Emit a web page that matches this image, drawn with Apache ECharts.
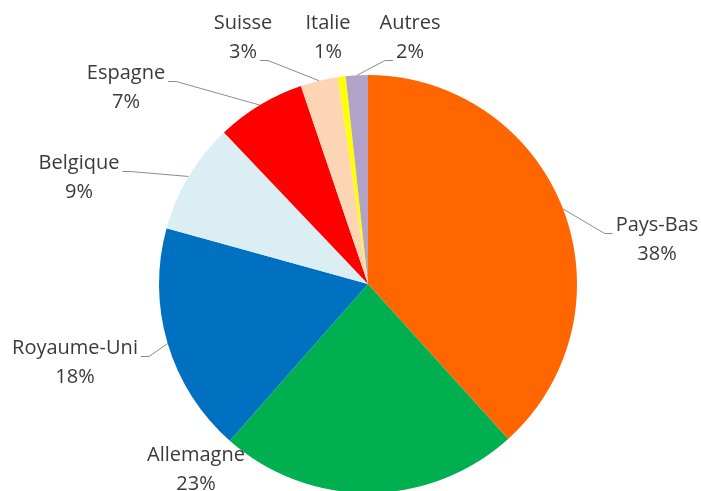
<!DOCTYPE html>
<html>
<head>
<meta charset="utf-8">
<script src="https://cdn.jsdelivr.net/npm/echarts@6/dist/echarts.min.js"></script>
<style>
  html, body { margin: 0; padding: 0; background: #fff; }
  #chart { width: 701px; height: 491px; }
</style>
</head>
<body>
<div id="chart"></div>
<script>
// données (parts en %)
var categories = ['Pays-Bas', 'Allemagne', 'Royaume-Uni', 'Belgique', 'Espagne', 'Suisse', 'Italie', 'Autres'];
var values = [38.3, 23.2, 17.8, 8.6, 6.9, 2.9, 0.6, 1.7];
var colors = ['#FF6600', '#00B050', '#0070C0', '#DAEEF3', '#FF0000', '#FCD5B5', '#FFFF00', '#B3A2C7'];

// position des étiquettes (centre du bloc de texte) et point d'attache du trait
var labelPos = [
    [657, 240], [196, 470], [75, 363], [79, 178],
    [126, 88], [243, 38], [328, 38], [410, 38]
];
// l/r = côté gauche/droit, 1/2 = ligne de texte ; null = pas de trait
var labelAttach = ['l1', null, 'r1', 'r1', 'r1', 'r2', null, 'l2'];

var FONT_SIZE = 20, LINE_H = 29;
var ctx = document.createElement('canvas').getContext('2d');
ctx.font = FONT_SIZE + 'px "Open Sans"';

function pctText(p) { return Math.round(p) + '%'; }

var myChart = echarts.init(document.getElementById('chart'));

var option = {
    animation: false,
    series: [{
        type: 'pie',
        center: [368, 284],
        radius: 209,
        startAngle: 90,
        clockwise: true,
        avoidLabelOverlap: false,
        data: categories.map(function (name, i) {
            return { name: name, value: values[i], itemStyle: { color: colors[i] } };
        }),
        label: {
            show: true,
            position: 'outside',
            fontFamily: 'Open Sans',
            fontSize: FONT_SIZE,
            lineHeight: LINE_H,
            color: '#3a3a3a',
            align: 'center',
            formatter: function (p) {
                return p.name + '\n' + pctText(p.percent);
            }
        },
        labelLine: {
            show: true,
            lineStyle: { color: '#8c8c8c', width: 1 }
        },
        labelLayout: function (params) {
            var i = params.dataIndex;
            var pos = labelPos[i];
            var res = { x: pos[0], y: pos[1], align: 'center', verticalAlign: 'middle' };
            var at = labelAttach[i];
            var start = params.labelLinePoints && params.labelLinePoints[0];
            if (!at || !start) {
                res.labelLinePoints = [[-100, -100], [-100, -100], [-100, -100]];
                return res;
            }
            var lineIdx = at.charAt(1) === '1' ? 0 : 1;
            var txt = lineIdx === 0 ? categories[i] : pctText(values[i]);
            var w = ctx.measureText(txt).width;
            var lineCy = pos[1] + (lineIdx === 0 ? -LINE_H / 2 : LINE_H / 2);
            var ay = lineCy + 8;
            var end, elbow;
            if (at.charAt(0) === 'l') {
                end = [pos[0] - w / 2 - 3, ay];
                elbow = [end[0] - 8, ay];
            } else {
                end = [pos[0] + w / 2 + 3, ay];
                elbow = [end[0] + 8, ay];
            }
            res.labelLinePoints = [start, elbow, end];
            return res;
        }
    }]
};

myChart.setOption(option);
</script>
</body>
</html>
